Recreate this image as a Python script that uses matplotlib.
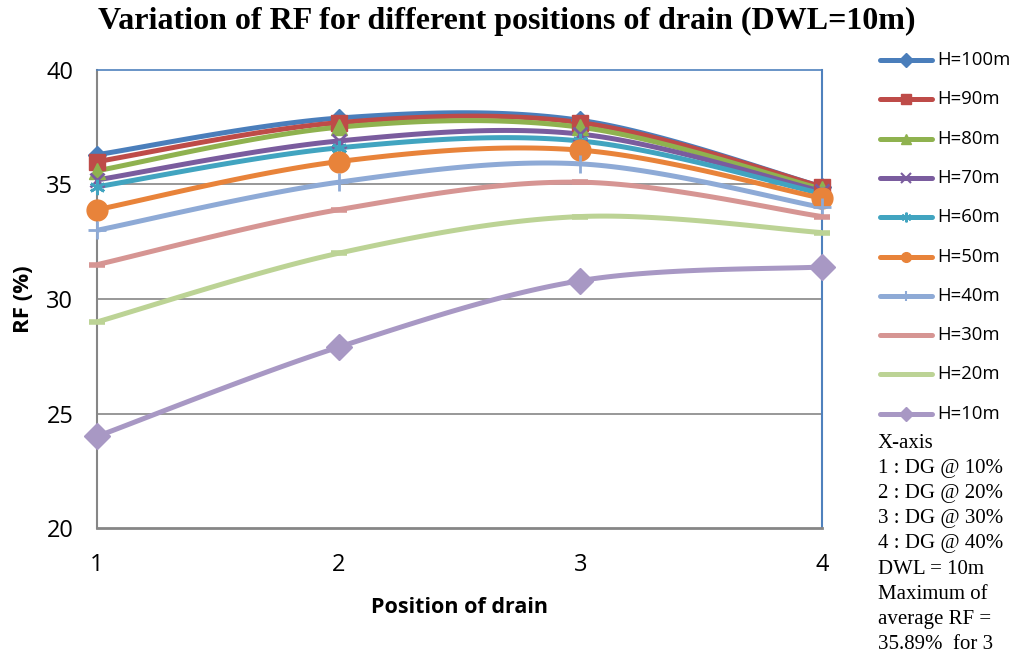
import numpy as np
import matplotlib
matplotlib.use("Agg")
import matplotlib.pyplot as plt
from matplotlib.lines import Line2D

positions = [1, 2, 3, 4]
labels = ["H=100m", "H=90m", "H=80m", "H=70m", "H=60m",
          "H=50m", "H=40m", "H=30m", "H=20m", "H=10m"]
h100 = [36.3, 37.9, 37.8, 34.9]
h90 = [36.0, 37.7, 37.7, 34.9]
h80 = [35.6, 37.5, 37.5, 34.8]
h70 = [35.2, 36.9, 37.2, 34.7]
h60 = [34.9, 36.6, 36.9, 34.6]
h50 = [33.9, 36.0, 36.5, 34.4]
h40 = [33.0, 35.1, 35.9, 34.0]
h30 = [31.5, 33.9, 35.1, 33.6]
h20 = [29.0, 32.0, 33.6, 32.9]
h10 = [24.0, 27.9, 30.8, 31.4]
series = [h100, h90, h80, h70, h60, h50, h40, h30, h20, h10]

colors = ["#4A7EBB", "#BE4B48", "#8FB24F", "#7A5C9E", "#41A4C0",
          "#E8833A", "#8EAAD6", "#D69593", "#BCD395", "#A898C4"]
markers = ["D", "s", "^", "x", (6, 2, 0), "o", "+", "_", "_", "D"]
msizes = [9, 12, 12, 10, 11, 15, 13, 11, 11, 13]
mews = [1, 1, 1, 2, 2, 1, 2, 4, 4, 1]


def smooth(x, y, n=40):
    # Excel-like smoothed line (Bezier with Catmull-Rom tangents)
    x = np.asarray(x, float)
    y = np.asarray(y, float)
    px = np.concatenate([[x[0]], x, [x[-1]]])
    py = np.concatenate([[y[0]], y, [y[-1]]])
    xs, ys = [], []
    t = np.linspace(0, 1, n)
    for i in range(len(x) - 1):
        p0 = np.array([px[i + 1], py[i + 1]])
        p3 = np.array([px[i + 2], py[i + 2]])
        c1 = p0 + (np.array([px[i + 2], py[i + 2]]) - np.array([px[i], py[i]])) / 6
        c2 = p3 - (np.array([px[i + 3], py[i + 3]]) - np.array([px[i + 1], py[i + 1]])) / 6
        b = ((1 - t) ** 3)[:, None] * p0 + (3 * (1 - t) ** 2 * t)[:, None] * c1 \
            + (3 * (1 - t) * t ** 2)[:, None] * c2 + (t ** 3)[:, None] * p3
        xs.extend(b[:, 0])
        ys.extend(b[:, 1])
    return np.array(xs), np.array(ys)


fig = plt.figure(figsize=(10.19, 6.57), dpi=100)
ax = fig.add_axes([0.0952, 0.1963, 0.7115, 0.6972])

for i, (vals, c) in enumerate(zip(series, colors)):
    sx, sy = smooth(positions, vals)
    ax.plot(sx, sy, color=c, lw=3.6, solid_capstyle="butt", zorder=2 + i * 0.1)
for i, (vals, c) in enumerate(zip(series, colors)):
    ax.plot(positions, vals, linestyle="none", marker=markers[i], ms=msizes[i],
            mew=mews[i], color=c, mec=c, mfc=c, zorder=4 + i * 0.1, clip_on=False)

ax.set_xlim(1, 4)
ax.set_ylim(20, 40)
ax.set_xticks(positions)
ax.set_yticks([20, 25, 30, 35, 40])
ax.tick_params(axis="both", length=0, labelsize=17)
ax.tick_params(axis="x", pad=18)
ax.tick_params(axis="y", pad=17)
for lab in ax.get_xticklabels() + ax.get_yticklabels():
    lab.set_fontfamily("Open Sans")
for yv in [25, 30, 35]:
    ax.axhline(yv, color="#868686", lw=1.2, zorder=1)
ax.spines["left"].set_color("#868686")
ax.spines["bottom"].set_color("#868686")
ax.spines["left"].set_linewidth(1.5)
ax.spines["bottom"].set_linewidth(2)
ax.spines["top"].set_color("#4F81BD")
ax.spines["right"].set_color("#4F81BD")
ax.spines["top"].set_linewidth(1.2)
ax.spines["right"].set_linewidth(1.5)

ax.set_xlabel("Position of drain", fontsize=15.5, fontweight="bold",
              family="Open Sans")
ax.set_ylabel("RF (%)", fontsize=16, fontweight="bold", family="Open Sans")
ax.xaxis.set_label_coords(0.50, -0.150)
ax.yaxis.set_label_coords(-0.087, 0.50)

fig.text(0.497, 1 - 21 / 657, "Variation of RF for different positions of drain (DWL=10m)",
         ha="center", va="center", fontsize=23, fontweight="bold",
         family="Liberation Serif")

# legend (manual placement)
for i, (lab, c) in enumerate(zip(labels, colors)):
    ypx = 60 + i * 39.3
    yf = 1 - ypx / 657
    x0, x1 = 880 / 1019, 932 / 1019
    fig.add_artist(Line2D([x0, x1], [yf, yf], transform=fig.transFigure,
                          color=c, lw=3.6, solid_capstyle="round"))
    if markers[i] not in ("_",):
        fig.add_artist(Line2D([(x0 + x1) / 2], [yf], transform=fig.transFigure,
                              marker=markers[i], ms=7,
                              mew=min(mews[i], 1.5), color=c, mec=c, mfc=c,
                              linestyle="none"))
    fig.text(937 / 1019, yf, lab, ha="left", va="center", fontsize=13.3,
             family="Open Sans")

notes = ["X-axis", "1 : DG @ 10%", "2 : DG @ 20%", "3 : DG @ 30%",
         "4 : DG @ 40%", "DWL = 10m", "Maximum of", "average RF =",
         "35.89%  for 3"]
for i, t in enumerate(notes):
    ypx = 443 + i * 25.2
    fig.text(878 / 1019, 1 - ypx / 657, t, ha="left", va="center",
             fontsize=15, family="Liberation Serif")

fig.savefig("out.png", dpi=100)
